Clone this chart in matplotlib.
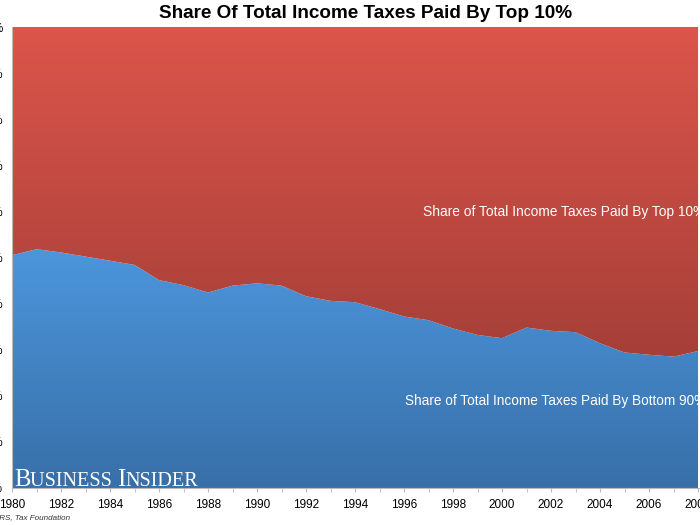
import numpy as np
import matplotlib.pyplot as plt
from matplotlib.colors import LinearSegmentedColormap

years = list(range(1980, 2009))
bottom90 = [50.5, 51.8, 51.1, 50.2, 49.3, 48.4, 45.1, 44.0, 42.4, 43.9,
            44.4, 43.9, 41.6, 40.6, 40.3, 38.8, 37.2, 36.4, 34.6, 33.2,
            32.5, 34.8, 34.1, 33.8, 31.4, 29.4, 28.9, 28.5, 29.7]
top10 = [100 - v for v in bottom90]

title = "Share Of Total Income Taxes Paid By Top 10%"
label_top = "Share of Total Income Taxes Paid By Top 10%"
label_bottom = "Share of Total Income Taxes Paid By Bottom 90%"
source = "Source: IRS, Tax Foundation"

plt.rcParams['font.family'] = ['Liberation Sans', 'DejaVu Sans']

W, H = 700, 525
fig = plt.figure(figsize=(7, 5.25), dpi=100)
ax = fig.add_axes([12 / W, 37 / H, 688 / W, 461 / H])
x0, x1 = 1980, 2008.08
ax.set_xlim(x0, x1)
ax.set_ylim(0, 100)

yrs = np.array(years)
b = np.array(bottom90)
t = np.array(top10)


def gradient_fill(lo, hi, c_top, c_bot, g_lo, g_hi):
    coll = ax.fill_between(yrs, lo, hi, facecolor="none", edgecolor="none")
    cmap = LinearSegmentedColormap.from_list("g", [c_bot, c_top])
    grad = np.linspace(0, 1, 256).reshape(-1, 1)
    im = ax.imshow(grad, cmap=cmap, aspect="auto", origin="lower",
                   extent=[x0, x1, g_lo, g_hi], zorder=1)
    im.set_clip_path(coll.get_paths()[0], transform=ax.transData)


gradient_fill(np.zeros_like(b), b, "#4C96DC", "#386FA8", 0, 52)
gradient_fill(b, b + t, "#DC554B", "#A53F38", 28, 100)
ax.set_xlim(x0, x1)
ax.set_ylim(0, 100)

ax.set_xticks(years, minor=True)
ax.set_xticks(years[::2])
ax.set_xticklabels([str(y) for y in years[::2]])
ax.set_yticks(range(0, 101, 10))
ax.set_yticklabels([f"{v}%" for v in range(0, 101, 10)])
ax.tick_params(axis="x", which="both", length=3, color="#bbbbbb",
               labelsize=8.5, pad=5)
ax.tick_params(axis="y", length=0, labelsize=8.5, pad=6.5)
for s in ["top", "right"]:
    ax.spines[s].set_visible(False)
for s in ["left", "bottom"]:
    ax.spines[s].set_color("#bbbbbb")
    ax.spines[s].set_linewidth(0.8)

ax.text(1996.78, 59.9, label_top, color="white", fontsize=9.9,
        va="center", ha="left", zorder=3)
ax.text(1996.04, 18.9, label_bottom, color="white", fontsize=9.8,
        va="center", ha="left", zorder=3)

fig.text(366 / W, 1 - 13 / H, title, ha="center", va="center",
         fontsize=13.6, fontweight="bold")
fig.text(70 / W, 1 - 518 / H, source, ha="right", va="center",
         fontsize=5.8, style="italic", color="#333333")

# watermark in small caps
serif = ["Liberation Serif", "DejaVu Serif"]
t1 = fig.text(14 / W, 1 - 486 / H, "B", color="white", fontsize=17.8,
              family=serif, va="baseline", ha="left", zorder=5)
prev = t1
for part, size in [("USINESS ", 14.6), ("I", 17.8), ("NSIDER", 14.6)]:
    prev = ax.annotate(part, xy=(1, 0), xycoords=prev, color="white",
                       fontsize=size, family=serif, va="bottom", ha="left",
                       zorder=5)

fig.savefig("out.png", dpi=100)
